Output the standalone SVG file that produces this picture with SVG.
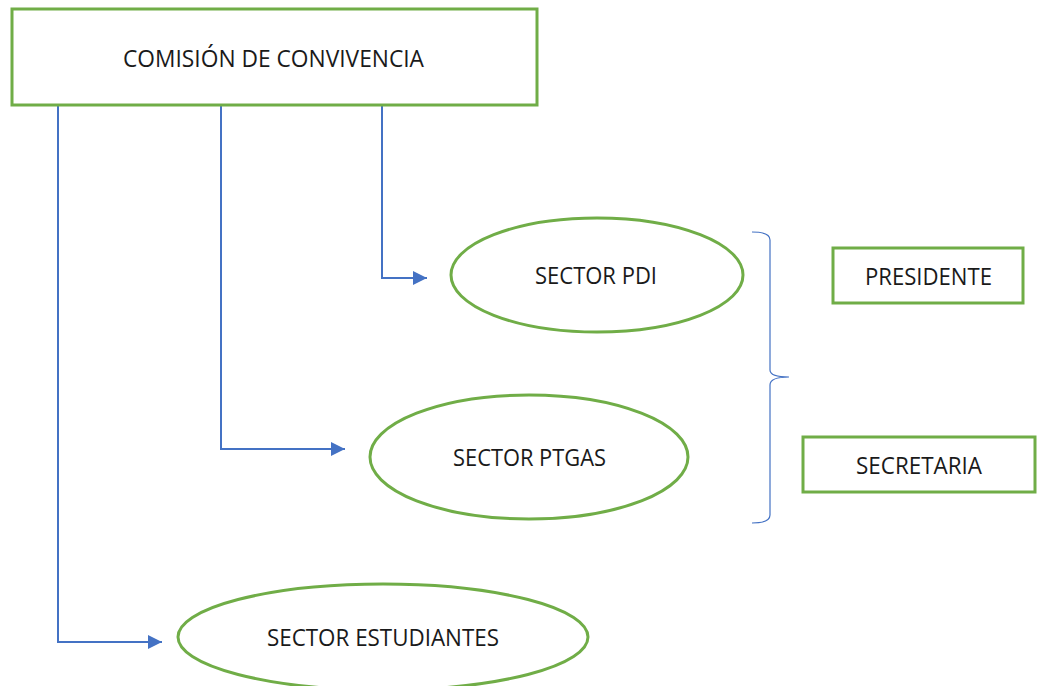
<svg xmlns="http://www.w3.org/2000/svg" width="1042" height="686" viewBox="0 0 1042 686">
<style>
.box{fill:#fff;stroke:#70AD47;stroke-width:3}
.lbl{font-family:"Open Sans","Liberation Sans",sans-serif;font-size:23px;fill:#1a1a1a}
.con{fill:none;stroke:#4472C4;stroke-width:2}
.brace{fill:none;stroke:#4472C4;stroke-width:1.2}
</style>
<defs>
<marker id="arr" viewBox="0 0 14 14" refX="14" refY="7" markerWidth="14" markerHeight="14" markerUnits="userSpaceOnUse" orient="auto">
<path d="M0,0 L14,7 L0,14 Z" fill="#4472C4"/>
</marker>
</defs>
<rect width="1042" height="686" fill="#fff"/>
<g id="connectors">
<path class="con" d="M382,105 V278 H427" marker-end="url(#arr)"/>
<path class="con" d="M221,105 V449 H345" marker-end="url(#arr)"/>
<path class="con" d="M58,105 V642 H162" marker-end="url(#arr)"/>
</g>
<g id="comision">
<rect class="box" x="12" y="9" width="525" height="96"/>
<text class="lbl" x="123" y="67" textLength="301" lengthAdjust="spacingAndGlyphs">COMISIÓN DE CONVIVENCIA</text>
</g>
<g id="sector-pdi">
<ellipse class="box" cx="597" cy="275" rx="146" ry="57"/>
<text class="lbl" x="535" y="284" textLength="122" lengthAdjust="spacingAndGlyphs">SECTOR PDI</text>
</g>
<g id="sector-ptgas">
<ellipse class="box" cx="529" cy="457" rx="159" ry="62"/>
<text class="lbl" x="453" y="466" textLength="153" lengthAdjust="spacingAndGlyphs">SECTOR PTGAS</text>
</g>
<g id="sector-estudiantes">
<ellipse class="box" cx="383" cy="637" rx="205" ry="53"/>
<text class="lbl" x="267" y="646" textLength="232" lengthAdjust="spacingAndGlyphs">SECTOR ESTUDIANTES</text>
</g>
<g id="brace">
<path class="brace" d="M752,232 Q770,232 770,240 V370 Q770,377 789,377 Q770,377 770,385 V515 Q770,523 752,523"/>
</g>
<g id="presidente">
<rect class="box" x="833" y="248" width="190" height="55"/>
<text class="lbl" x="865" y="285" textLength="127" lengthAdjust="spacingAndGlyphs">PRESIDENTE</text>
</g>
<g id="secretaria">
<rect class="box" x="803" y="437" width="232" height="55"/>
<text class="lbl" x="856" y="474" textLength="126" lengthAdjust="spacingAndGlyphs">SECRETARIA</text>
</g>
</svg>
